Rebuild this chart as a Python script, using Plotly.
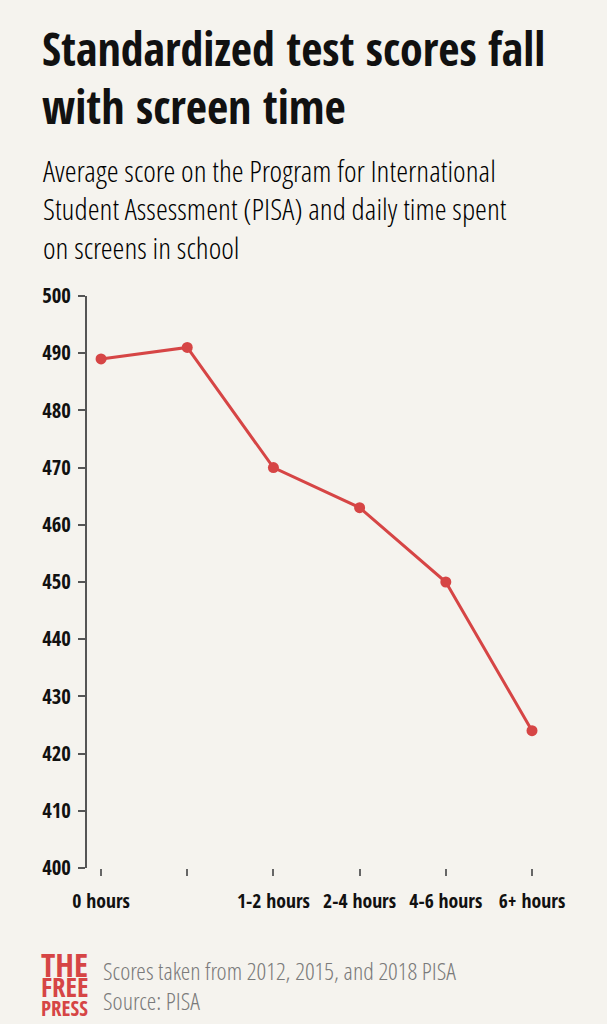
import plotly.graph_objects as go

# Data
categories = ["0 hours", "", "1-2 hours", "2-4 hours", "4-6 hours", "6+ hours"]
scores = [489, 491, 470, 463, 450, 424]
y_ticks = [400, 410, 420, 430, 440, 450, 460, 470, 480, 490, 500]

title_lines = ["Standardized test scores fall", "with screen time"]
subtitle_lines = [
    "Average score on the Program for International",
    "Student Assessment (PISA) and daily time spent",
    "on screens in school",
]
note_lines = ["Scores taken from 2012, 2015, and 2018 PISA", "Source: PISA"]
logo_lines = ["THE", "FREE", "PRESS"]

W, H = 607, 1024
ML, MR, MT, MB = 87, 47, 296, 156
PW, PH = W - ML - MR, H - MT - MB

FONT = "Open Sans Condensed, DejaVu Sans Condensed, sans-serif"
FONT_LIGHT = "Open Sans Condensed Light, DejaVu Sans Condensed, sans-serif"
BG = "#f5f3ee"
RED = "#d64545"


def px_x(x):
    return (x - ML) / PW


def px_y(y):
    return (H - MB - y) / PH


x_idx = list(range(len(categories)))

fig = go.Figure()
fig.add_trace(go.Scatter(
    x=x_idx,
    y=scores,
    mode="lines+markers",
    line=dict(color=RED, width=3),
    marker=dict(color=RED, size=11),
    hoverinfo="skip",
))

annotations = []


def text(s, x, y, size, color="#111", family=FONT):
    annotations.append(dict(
        text=s,
        x=px_x(x), y=px_y(y), xref="paper", yref="paper",
        xanchor="left", yanchor="middle", align="left",
        showarrow=False, font=dict(family=family, size=size, color=color),
    ))


# title and subtitle
text(title_lines[0], 40, 48, 46)
text(title_lines[1], 40, 106, 46)
for i, line in enumerate(subtitle_lines):
    text(line, 41, 170 + i * 38.5, 30.3, color="#000", family=FONT_LIGHT)

# footer note
text(note_lines[0], 101, 970, 24.3, color="#7a7a7a", family=FONT_LIGHT)
text(note_lines[1], 101, 1000, 24.3, color="#7a7a7a", family=FONT_LIGHT)

# logo, stacked in one block
logo = (f"<span style='font-size:33px'>{logo_lines[0]}</span><br>"
        f"<span style='font-size:27px'>{logo_lines[1]}</span><br>"
        f"<span style='font-size:21px'>{logo_lines[2]}</span>")
text(logo, 39, 982, 15, color=RED)

fig.update_layout(
    width=W,
    height=H,
    margin=dict(l=ML, r=MR, t=MT, b=MB),
    paper_bgcolor=BG,
    plot_bgcolor=BG,
    showlegend=False,
    annotations=annotations,
    xaxis=dict(
        range=[-0.163, 5.325],
        tickvals=x_idx,
        ticktext=categories,
        showgrid=False,
        zeroline=False,
        showline=False,
        ticks="outside",
        ticklen=7,
        tickwidth=1.5,
        tickcolor="#666",
        ticklabelstandoff=8,
        tickfont=dict(family=FONT, size=19.7, color="#111"),
        fixedrange=True,
    ),
    yaxis=dict(
        range=[400, 500],
        tickvals=y_ticks,
        showgrid=False,
        zeroline=False,
        showline=True,
        linecolor="#555",
        linewidth=2,
        ticks="outside",
        ticklen=7,
        tickwidth=2,
        tickcolor="#555",
        ticklabelstandoff=3,
        tickfont=dict(family=FONT, size=20.7, color="#111"),
        fixedrange=True,
    ),
)

fig.write_html("out.html", config={"displayModeBar": False},
               post_script="document.body.style.margin='0';")
